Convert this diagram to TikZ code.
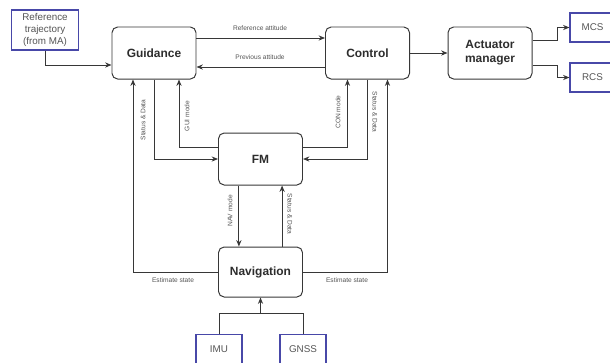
\documentclass[tikz,border=0pt]{standalone}
\usepackage{fontspec}
\setmainfont{Liberation Sans}
\usetikzlibrary{arrows.meta,positioning,calc}
\definecolor{diagInk}{RGB}{45,45,45}
\definecolor{diagLine}{RGB}{55,55,55}
\definecolor{diagBlue}{RGB}{72,72,168}
\definecolor{diagText}{RGB}{85,85,85}

\begin{document}
\begin{tikzpicture}[
      >={Stealth[length=1.6mm,width=1.3mm]},
      blk/.style={rectangle,rounded corners=4pt,draw=diagLine,line width=0.7pt,fill=white,
                  minimum width=21mm,minimum height=13mm,align=center,inner sep=1pt,
                  font=\fontsize{8.5}{10}\selectfont\bfseries,text=diagInk},
      ext/.style={rectangle,draw=diagBlue,line width=0.8pt,align=center,inner sep=1pt,
                  font=\fontsize{7}{8.5}\selectfont,text=diagText},
      lbl/.style={font=\fontsize{4.7}{5.5}\selectfont,text=diagText,inner sep=0.5pt},
      ln/.style={diagLine,line width=0.7pt},
      ar/.style={ln,->}]

    \useasboundingbox (0,0) rectangle (15.25,-9.05);

    % ---------- top row : guidance, control, actuators ----------
    \node[ext,minimum width=16.75mm,minimum height=10mm] (ref) at (1.125,-0.75)
      {Reference\\trajectory\\(from MA)};
    \node[blk] (gui) at (3.85,-1.325)   {Guidance};
    \node[blk] (ctl) at (9.1875,-1.325) {Control};
    \node[blk] (act) at (12.25,-1.325)  {Actuator\\manager};
    \node[ext,minimum width=11.25mm,minimum height=7.25mm] (mcs) at (14.8125,-0.6875) {MCS};
    \node[ext,minimum width=11.25mm,minimum height=7.25mm] (rcs) at (14.8125,-1.9375) {RCS};

    \draw[ar] (ref.south) |- ($(gui.west)+(0,-0.3)$);
    \draw[ar] ($(gui.east)+(0,0.375)$) -- ($(ctl.west)+(0,0.375)$);
    \draw[ar] ($(ctl.west)+(0,-0.35)$) -- ($(gui.east)+(0,-0.35)$);
    \draw[ar] (ctl) -- (act);
    \draw[ar] ($(act.east)+(0,0.325)$) -- ++(0.625,0) |- (mcs.west);
    \draw[ar] ($(act.east)+(0,-0.3)$) -- ++(0.625,0) |- (rcs.west);

    % ---------- middle : flight manager ----------
    \node[blk] (fm)  at (6.5125,-3.975) {FM};
    \draw[ar] (gui.south) |- (fm.west);
    \draw[ar] ($(fm.west)+(0,0.3)$) -| ($(gui.south)+(0.625,0)$);
    \draw[ar] ($(fm.east)+(0,0.3)$) -| ($(ctl.south)+(-0.5,0)$);
    \draw[ar] (ctl.south) |- (fm.east);

    % ---------- bottom : navigation and sensors ----------
    \node[blk,minimum height=12.5mm] (nav) at (6.5125,-6.8) {Navigation};
    \node[ext,minimum width=11.5mm,minimum height=7.25mm] (imu)  at (5.475,-8.725) {IMU};
    \node[ext,minimum width=11.5mm,minimum height=7.25mm] (gnss) at (7.575,-8.725) {GNSS};

    \draw[ar] ($(fm.south)+(-0.54,0)$) -- ($(nav.north)+(-0.54,0)$);
    \draw[ar] ($(nav.north)+(0.54,0)$) -- ($(fm.south)+(0.54,0)$);
    \draw[ar] (nav.west) -| ($(gui.south)+(-0.525,0)$);
    \draw[ar] (nav.east) -| ($(ctl.south)+(0.5,0)$);
    \coordinate (jn) at ($(nav.south)+(0,-0.4)$);
    \draw[ln] (imu.north) |- (jn) -| (gnss.north);
    \draw[ar] (jn) -- (nav.south);

    % ---------- connector labels ----------
    \node[lbl] (lRef)  at (6.5,-0.7)     {Reference attitude};
    \node[lbl] (lPrev) at (6.5,-1.425)   {Previous attitude};
    \node[lbl] (lEstL) at (4.325,-7.0)   {Estimate state};
    \node[lbl] (lEstR) at (8.675,-7.0)   {Estimate state};
    \node[lbl,rotate=90]  (lGsd) at (3.575,-3.0)  {Status \& Data};
    \node[lbl,rotate=90]  (lGui) at (4.675,-2.9)  {GUI mode};
    \node[lbl,rotate=90]  (lCon) at (8.45,-2.8)   {CON mode};
    \node[lbl,rotate=-90] (lCsd) at (9.375,-2.8)  {Status \& Data};
    \node[lbl,rotate=90]  (lNav) at (5.75,-5.275) {NAV mode};
    \node[lbl,rotate=-90] (lNsd) at (7.25,-5.35)  {Status \& Data};
  \end{tikzpicture}
\end{document}
